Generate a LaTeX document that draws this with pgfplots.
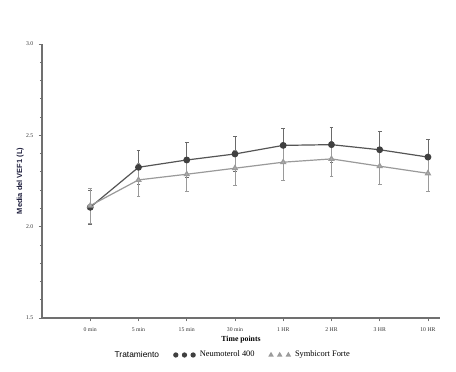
\documentclass[border=0pt]{standalone}
\usepackage{pgfplots}
\pgfplotsset{compat=1.18}
\usepackage{fontspec}
\setmainfont{Liberation Serif}
\setsansfont{Liberation Sans}
\definecolor{darkser}{HTML}{555555}
\definecolor{darkerr}{HTML}{6A6A6A}
\definecolor{darkmark}{HTML}{404040}
\definecolor{lightser}{HTML}{9A9A9A}
\definecolor{lightmark}{HTML}{B0B0B0}
\definecolor{axcol}{HTML}{707070}
\pgfplotsset{threemarks/.style={/pgfplots/legend image code/.code={%
    \draw[##1, mark size=1.5pt] plot[only marks] coordinates {(0pt,0pt) (6.5pt,0pt) (13pt,0pt)};
    \path[draw=none, fill=none] (0pt,0pt) (16pt,0pt);}}}
\begin{document}
\begin{tikzpicture}[x=1pt,y=1pt]
\path[use as bounding box] (0,0) rectangle (342,278.25);
\begin{axis}[
  at={(31.5pt,39.75pt)}, anchor=south west,
  scale only axis, width=298.5pt, height=205.5pt,
  xmin=-1, xmax=7.25, ymin=1.5, ymax=3.0,
  axis x line*=bottom, axis y line*=left,
  axis line style={-, draw=axcol, line width=0.8pt},
  xtick={0,...,7},
  xticklabels={0 min, 5 min, 15 min, 30 min, 1 HR, 2 HR, 3 HR, 10 HR},
  ytick={1.5,2.0,2.5,3.0},
  yticklabels={1.5,2.0,2.5,3.0},
  minor y tick num=4,
  tick align=outside,
  major tick length=2.5pt, minor tick length=1.5pt,
  tick style={draw=axcol, line width=0.6pt},
  tick label style={font=\fontsize{4.3}{5}\selectfont, text=black!80},
  xticklabel style={yshift=-1.5pt},
  yticklabel style={xshift=-0.5pt},
  xlabel={Time points},
  xlabel style={font=\fontsize{5.8}{6}\selectfont\bfseries, yshift=4pt},
  ylabel={Media del VEF1 (L)},
  ylabel style={font=\sffamily\fontsize{5.6}{6}\selectfont\bfseries, text={rgb,255:red,30;green,30;blue,60}, yshift=-5pt},
  legend columns=3,
  legend style={draw=none, fill=none, at={(0.478,-0.135)}, anchor=center,
    font=\fontsize{6.3}{7}\selectfont, /tikz/every even column/.append style={column sep=9pt}},
  legend cell align=left,
  clip=false,
]
\addlegendimage{empty legend}
\addlegendentry{\sffamily Tratamiento}

\addplot[color=darkser, line width=0.9pt, mark=*, mark size=2.1pt,
  mark options={fill=darkmark, draw=darkmark}, threemarks,
  error bars/.cd, y dir=both, y explicit,
  error bar style={draw=darkerr, line width=0.6pt},
  error mark options={rotate=90, mark size=1.4pt, draw=darkerr, line width=0.6pt},
] coordinates {
 (0,2.106) +- (0,0.095)
 (1,2.325) +- (0,0.095)
 (2,2.365) +- (0,0.097)
 (3,2.398) +- (0,0.097)
 (4,2.445) +- (0,0.095)
 (5,2.449) +- (0,0.097)
 (6,2.421) +- (0,0.098)
 (7,2.381) +- (0,0.097)
};
\addlegendentry{Neumoterol 400}

\addplot[color=lightser, line width=0.9pt, mark=triangle*, mark size=2.0pt,
  mark options={fill=lightmark, draw=lightser}, threemarks,
  error bars/.cd, y dir=both, y explicit,
  error bar style={draw=lightser, line width=0.6pt},
  error mark options={rotate=90, mark size=1.4pt, draw=lightser, line width=0.6pt},
] coordinates {
 (0,2.115) +- (0,0.095)
 (1,2.256) +- (0,0.093)
 (2,2.287) +- (0,0.093)
 (3,2.320) +- (0,0.096)
 (4,2.353) +- (0,0.097)
 (5,2.371) +- (0,0.097)
 (6,2.331) +- (0,0.097)
 (7,2.292) +- (0,0.097)
};
\addlegendentry{Symbicort Forte}
\end{axis}
\end{tikzpicture}
\end{document}
